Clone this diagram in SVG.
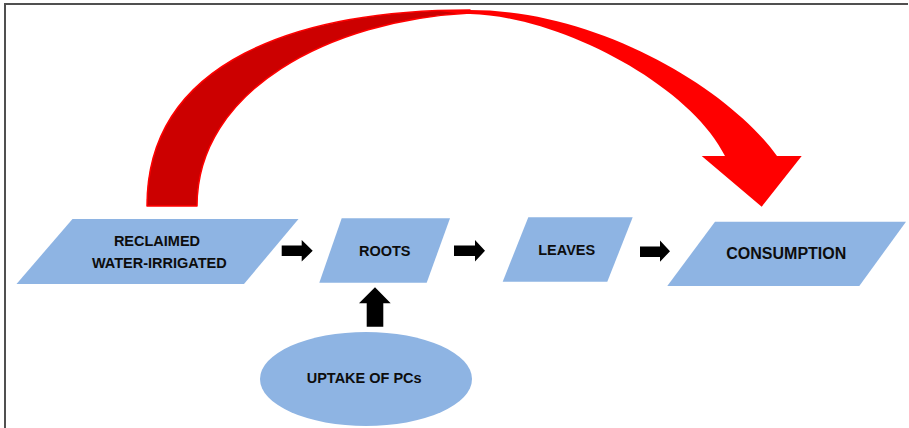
<svg xmlns="http://www.w3.org/2000/svg" width="909" height="428" viewBox="0 0 909 428">
  <style>
    .shape { fill: #8EB4E3; }
    .label { font-family: "Liberation Sans", Arial, sans-serif; font-weight: bold; font-size: 14.5px; fill: #0d0d0d; text-anchor: middle; }
    .block { fill: #000000; }
    .frame { stroke: #505050; stroke-width: 2; fill: none; }
  </style>

  <rect x="0" y="0" width="909" height="428" fill="#ffffff"/>

  <!-- frame edges -->
  <path class="frame" d="M5,428 V4 H908"/>

  <!-- large curved arrow: shaded back half, then front half with head -->
  <g id="curved-arrow">
    <path d="M147,206 C147,60 300,10 470,10 L470,13 C330,20 197,90 197,206 Z" fill="#CC0000" stroke="#FF0000" stroke-width="1.5" stroke-linejoin="round"/>
    <path d="M440,11 C452,10 462,10 470,10 C600,10 730,90 777,156 L801.7,156 L761.7,206.7 L701.7,156 L725,156 C690,85 560,16 470,14 C460,13.5 450,12.5 440,11 Z" fill="#FF0000"/>
  </g>

  <g id="node-reclaimed">
    <polygon class="shape" points="72.5,219 298.5,219 244,284 16.5,284"/>
    <text class="label" x="157" y="245.7">RECLAIMED</text>
    <text class="label" x="159.3" y="268.3">WATER-IRRIGATED</text>
  </g>

  <g id="node-roots">
    <polygon class="shape" points="341.7,218.3 450,218.3 426.7,282.7 319.3,282.7"/>
    <text class="label" x="384.7" y="256">ROOTS</text>
  </g>

  <g id="node-leaves">
    <polygon class="shape" points="528.3,217.3 632.7,217.3 607.3,281.7 502.7,281.7"/>
    <text class="label" x="566.7" y="255">LEAVES</text>
  </g>

  <g id="node-consumption">
    <polygon class="shape" points="715,221.7 906,221.7 859.3,286 667.3,286"/>
    <text class="label" x="786.3" y="259.3" style="font-size:16px">CONSUMPTION</text>
  </g>

  <g id="node-uptake">
    <ellipse class="shape" cx="366" cy="379" rx="106" ry="47"/>
    <text class="label" x="364.2" y="383.3">UPTAKE OF PCs</text>
  </g>

  <!-- block connectors -->
  <g id="connectors">
    <path class="block" d="M281.7,245.6 H301.7 V240 L312.7,250.8 L301.7,261.6 V256 H281.7 Z"/>
    <path class="block" d="M454,245.6 H475 V240 L485,250.8 L475,261.6 V256 H454 Z"/>
    <path class="block" d="M640,246.4 H660 V240.6 L670,251.2 L660,261.8 V257 H640 Z"/>
    <path class="block" d="M366.7,326.7 V303.3 H359 L375,287.3 L390.7,303.3 H383.3 V326.7 Z"/>
  </g>
</svg>
